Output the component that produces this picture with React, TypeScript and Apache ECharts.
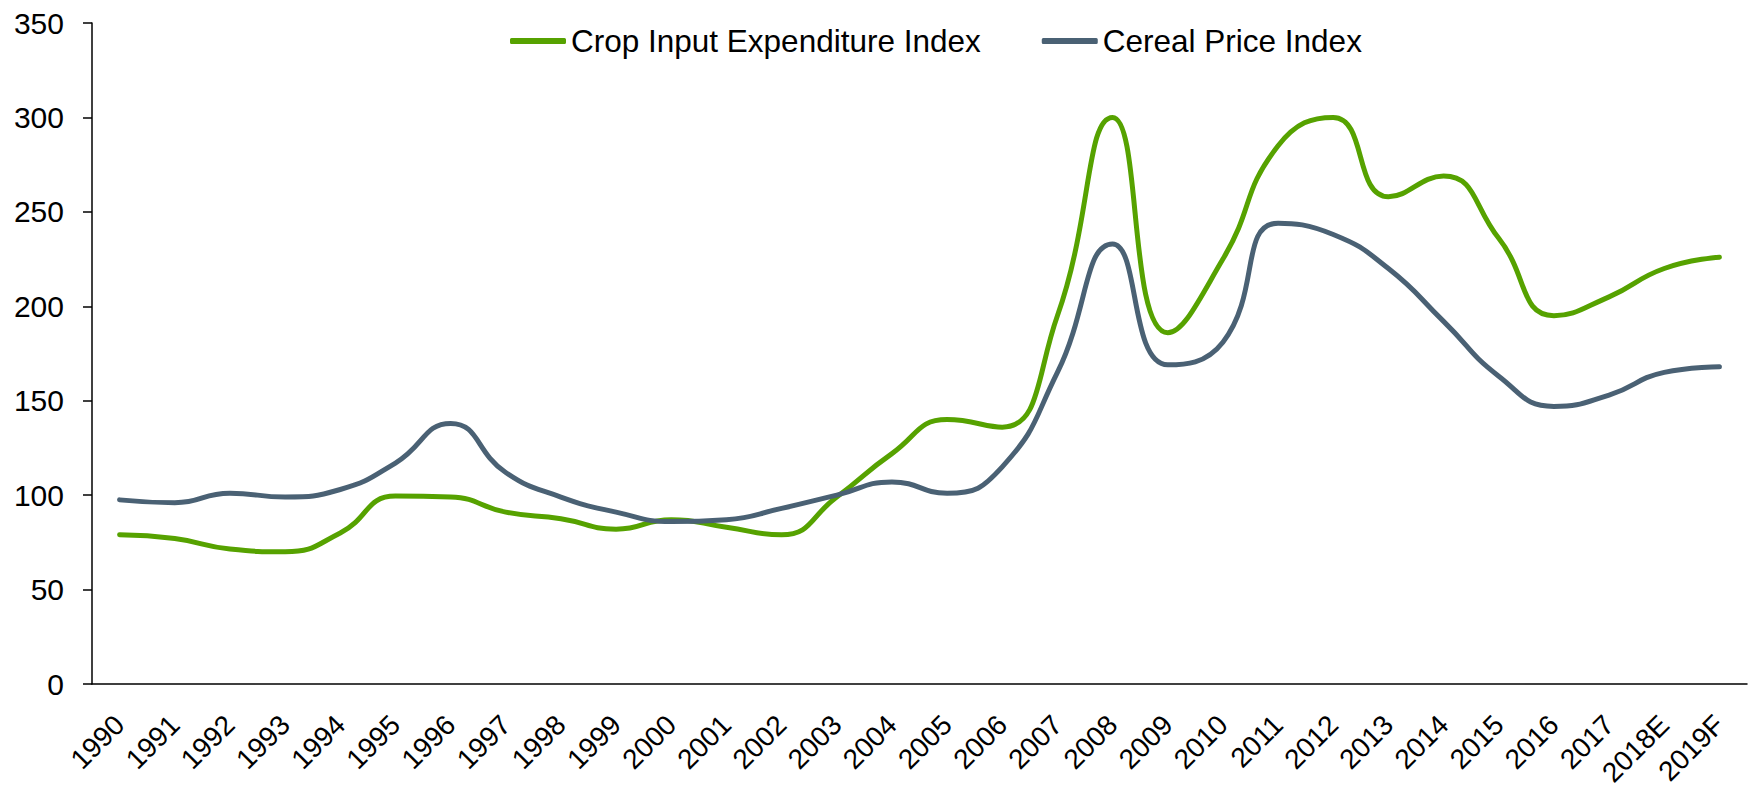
import React, { useEffect, useRef } from "react";
import * as echarts from "echarts";

const categories = [
  "1990", "1991", "1992", "1993", "1994", "1995", "1996", "1997", "1998", "1999",
  "2000", "2001", "2002", "2003", "2004", "2005", "2006", "2007", "2008", "2009",
  "2010", "2011", "2012", "2013", "2014", "2015", "2016", "2017", "2018E", "2019F",
];

const cropInputIndex = [
  79, 77, 71.5, 70, 80, 99.5, 99, 91, 87.5, 82,
  87, 83, 79, 99, 122, 140, 136, 195, 300, 186,
  225, 285, 300, 258, 269, 236, 195, 205, 220, 226,
];

const cerealPriceIndex = [
  97.5, 96, 101, 99, 103, 117, 138, 112, 99, 91,
  86, 87, 93, 100, 107, 101, 115, 165, 233, 169,
  181, 244, 238, 220, 192, 163, 147, 153, 165, 168,
];

const yTicks = { min: 0, max: 350, interval: 50 };

const GREEN = "#56a200";
const GREY = "#4a6174";
const FONT = "'Liberation Sans', Arial, sans-serif";

export default function App() {
  const ref = useRef<HTMLDivElement>(null);

  useEffect(() => {
    if (!ref.current) return;
    const chart = echarts.init(ref.current, undefined, { renderer: "svg" });
    chart.setOption({
      animation: false,
      backgroundColor: "#ffffff",
      textStyle: { fontFamily: FONT },
      legend: {
        left: 505,
        top: 20,
        itemWidth: 56,
        itemHeight: 6,
        itemGap: 61,
        icon: "roundRect",
        textStyle: { fontSize: 31.5, color: "#000", fontFamily: FONT },
        data: ["Crop Input Expenditure Index", "Cereal Price Index"],
      },
      grid: { left: 92, right: 5, top: 23, bottom: 106, containLabel: false },
      xAxis: {
        type: "category",
        data: categories,
        boundaryGap: true,
        axisLine: { show: true, lineStyle: { color: "#000", width: 1.5 } },
        axisTick: { show: false },
        axisLabel: {
          rotate: 45,
          interval: 0,
          margin: 36,
          fontSize: 28,
          color: "#000",
          fontFamily: FONT,
        },
        splitLine: { show: false },
      },
      yAxis: {
        type: "value",
        min: yTicks.min,
        max: yTicks.max,
        interval: yTicks.interval,
        axisLine: { show: true, lineStyle: { color: "#000", width: 1.5 } },
        axisTick: { show: true, inside: false, length: 9, lineStyle: { color: "#000", width: 1.5 } },
        axisLabel: { margin: 28, fontSize: 30, color: "#000", fontFamily: FONT },
        splitLine: { show: false },
      },
      series: [
        {
          name: "Crop Input Expenditure Index",
          type: "line",
          data: cropInputIndex,
          smooth: 0.5,
          symbol: "none",
          lineStyle: { color: GREEN, width: 5, cap: "round", join: "round" },
          itemStyle: { color: GREEN },
        },
        {
          name: "Cereal Price Index",
          type: "line",
          data: cerealPriceIndex,
          smooth: 0.5,
          symbol: "none",
          lineStyle: { color: GREY, width: 5, cap: "round", join: "round" },
          itemStyle: { color: GREY },
        },
      ],
    });
    return () => chart.dispose();
  }, []);

  return (
    <div
      ref={ref}
      style={{ position: "absolute", left: 0, top: 0, width: 1752, height: 790, background: "#fff" }}
    />
  );
}
